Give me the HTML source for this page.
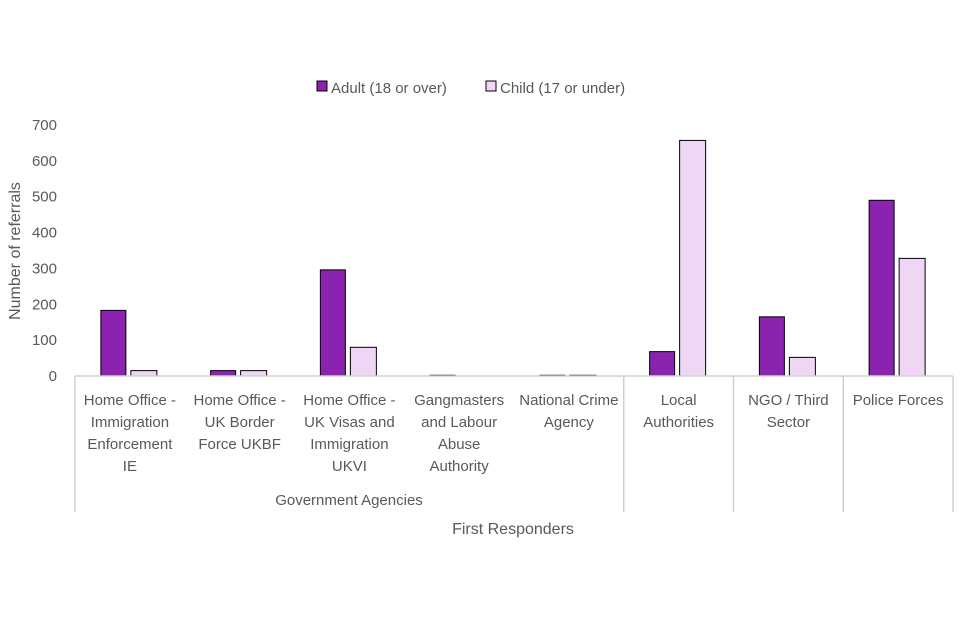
<!DOCTYPE html>
<html><head><meta charset="utf-8"><style>
body{margin:0;background:#fff}
svg{display:block;font-family:"Liberation Sans",sans-serif}
</style></head><body>
<svg id="chart" width="960" height="640">
<g id="legend">
<g><rect x="317" y="81" width="10" height="10" fill="#8b23b0" stroke="#000" stroke-width="1"/><text x="331" y="93" font-size="15" fill="#595959">Adult (18 or over)</text></g>
<g><rect x="486" y="81" width="10" height="10" fill="#efd6f5" stroke="#000" stroke-width="1"/><text x="500" y="93" font-size="15" fill="#595959">Child (17 or under)</text></g>
</g>
<text transform="translate(20,251) rotate(-90)" text-anchor="middle" font-size="16" fill="#595959">Number of referrals</text>
<text x="513" y="534" text-anchor="middle" font-size="16" fill="#595959">First Responders</text>
<text x="349" y="505" text-anchor="middle" font-size="15" fill="#595959">Government Agencies</text>
</svg>
<script>
const categories=[["Home Office -","Immigration","Enforcement","IE"],["Home Office -","UK Border","Force UKBF"],["Home Office -","UK Visas and","Immigration","UKVI"],["Gangmasters","and Labour","Abuse","Authority"],["National Crime","Agency"],["Local","Authorities"],["NGO / Third","Sector"],["Police Forces"]];
const adult=[183,15,296,2,2,68,165,490];
const child=[15,15,80,0,2,657,52,328];
const yTicks=[0,100,200,300,400,500,600,700];
const NS="http://www.w3.org/2000/svg";
const svg=document.getElementById('chart');
const x0=75,x1=953,y0=376,y700=125;
const cw=(x1-x0)/categories.length;
function y(v){return y0-(v/700)*(y0-y700);}
function xc(i){return x0+cw*(i+0.5);}
function mk(t,a){const e=document.createElementNS(NS,t);for(const k in a)e.setAttribute(k,a[k]);svg.appendChild(e);return e;}
yTicks.forEach(v=>{const t=mk('text',{x:57,y:y(v)+5,'text-anchor':'end','font-size':15,fill:'#595959'});t.textContent=v;

});
adult.forEach((v,i)=>{const r=mk('rect',{x:xc(i)-29,y:y(v),width:25,height:y0-y(v),fill:'#8b23b0',stroke:'#000','stroke-width':1});

});
child.forEach((v,i)=>{const r=mk('rect',{x:xc(i)+1,y:y(v),width:26,height:y0-y(v),fill:'#efd6f5',stroke:'#000','stroke-width':1});

});
const ax=mk('line',{x1:x0,y1:y0,x2:x1,y2:y0,stroke:'#d0d0d0','stroke-width':1.5});


[0,5,6,7,8].forEach(i=>{const l=mk('line',{x1:x0+cw*i,y1:y0,x2:x0+cw*i,y2:512,stroke:'#d0d0d0','stroke-width':1.5});

});
categories.forEach((lines,i)=>{lines.forEach((s,j)=>{const t=mk('text',{x:xc(i),y:405+j*22,'text-anchor':'middle','font-size':15,fill:'#595959'});t.textContent=s;

});});
</script>
</body></html>
